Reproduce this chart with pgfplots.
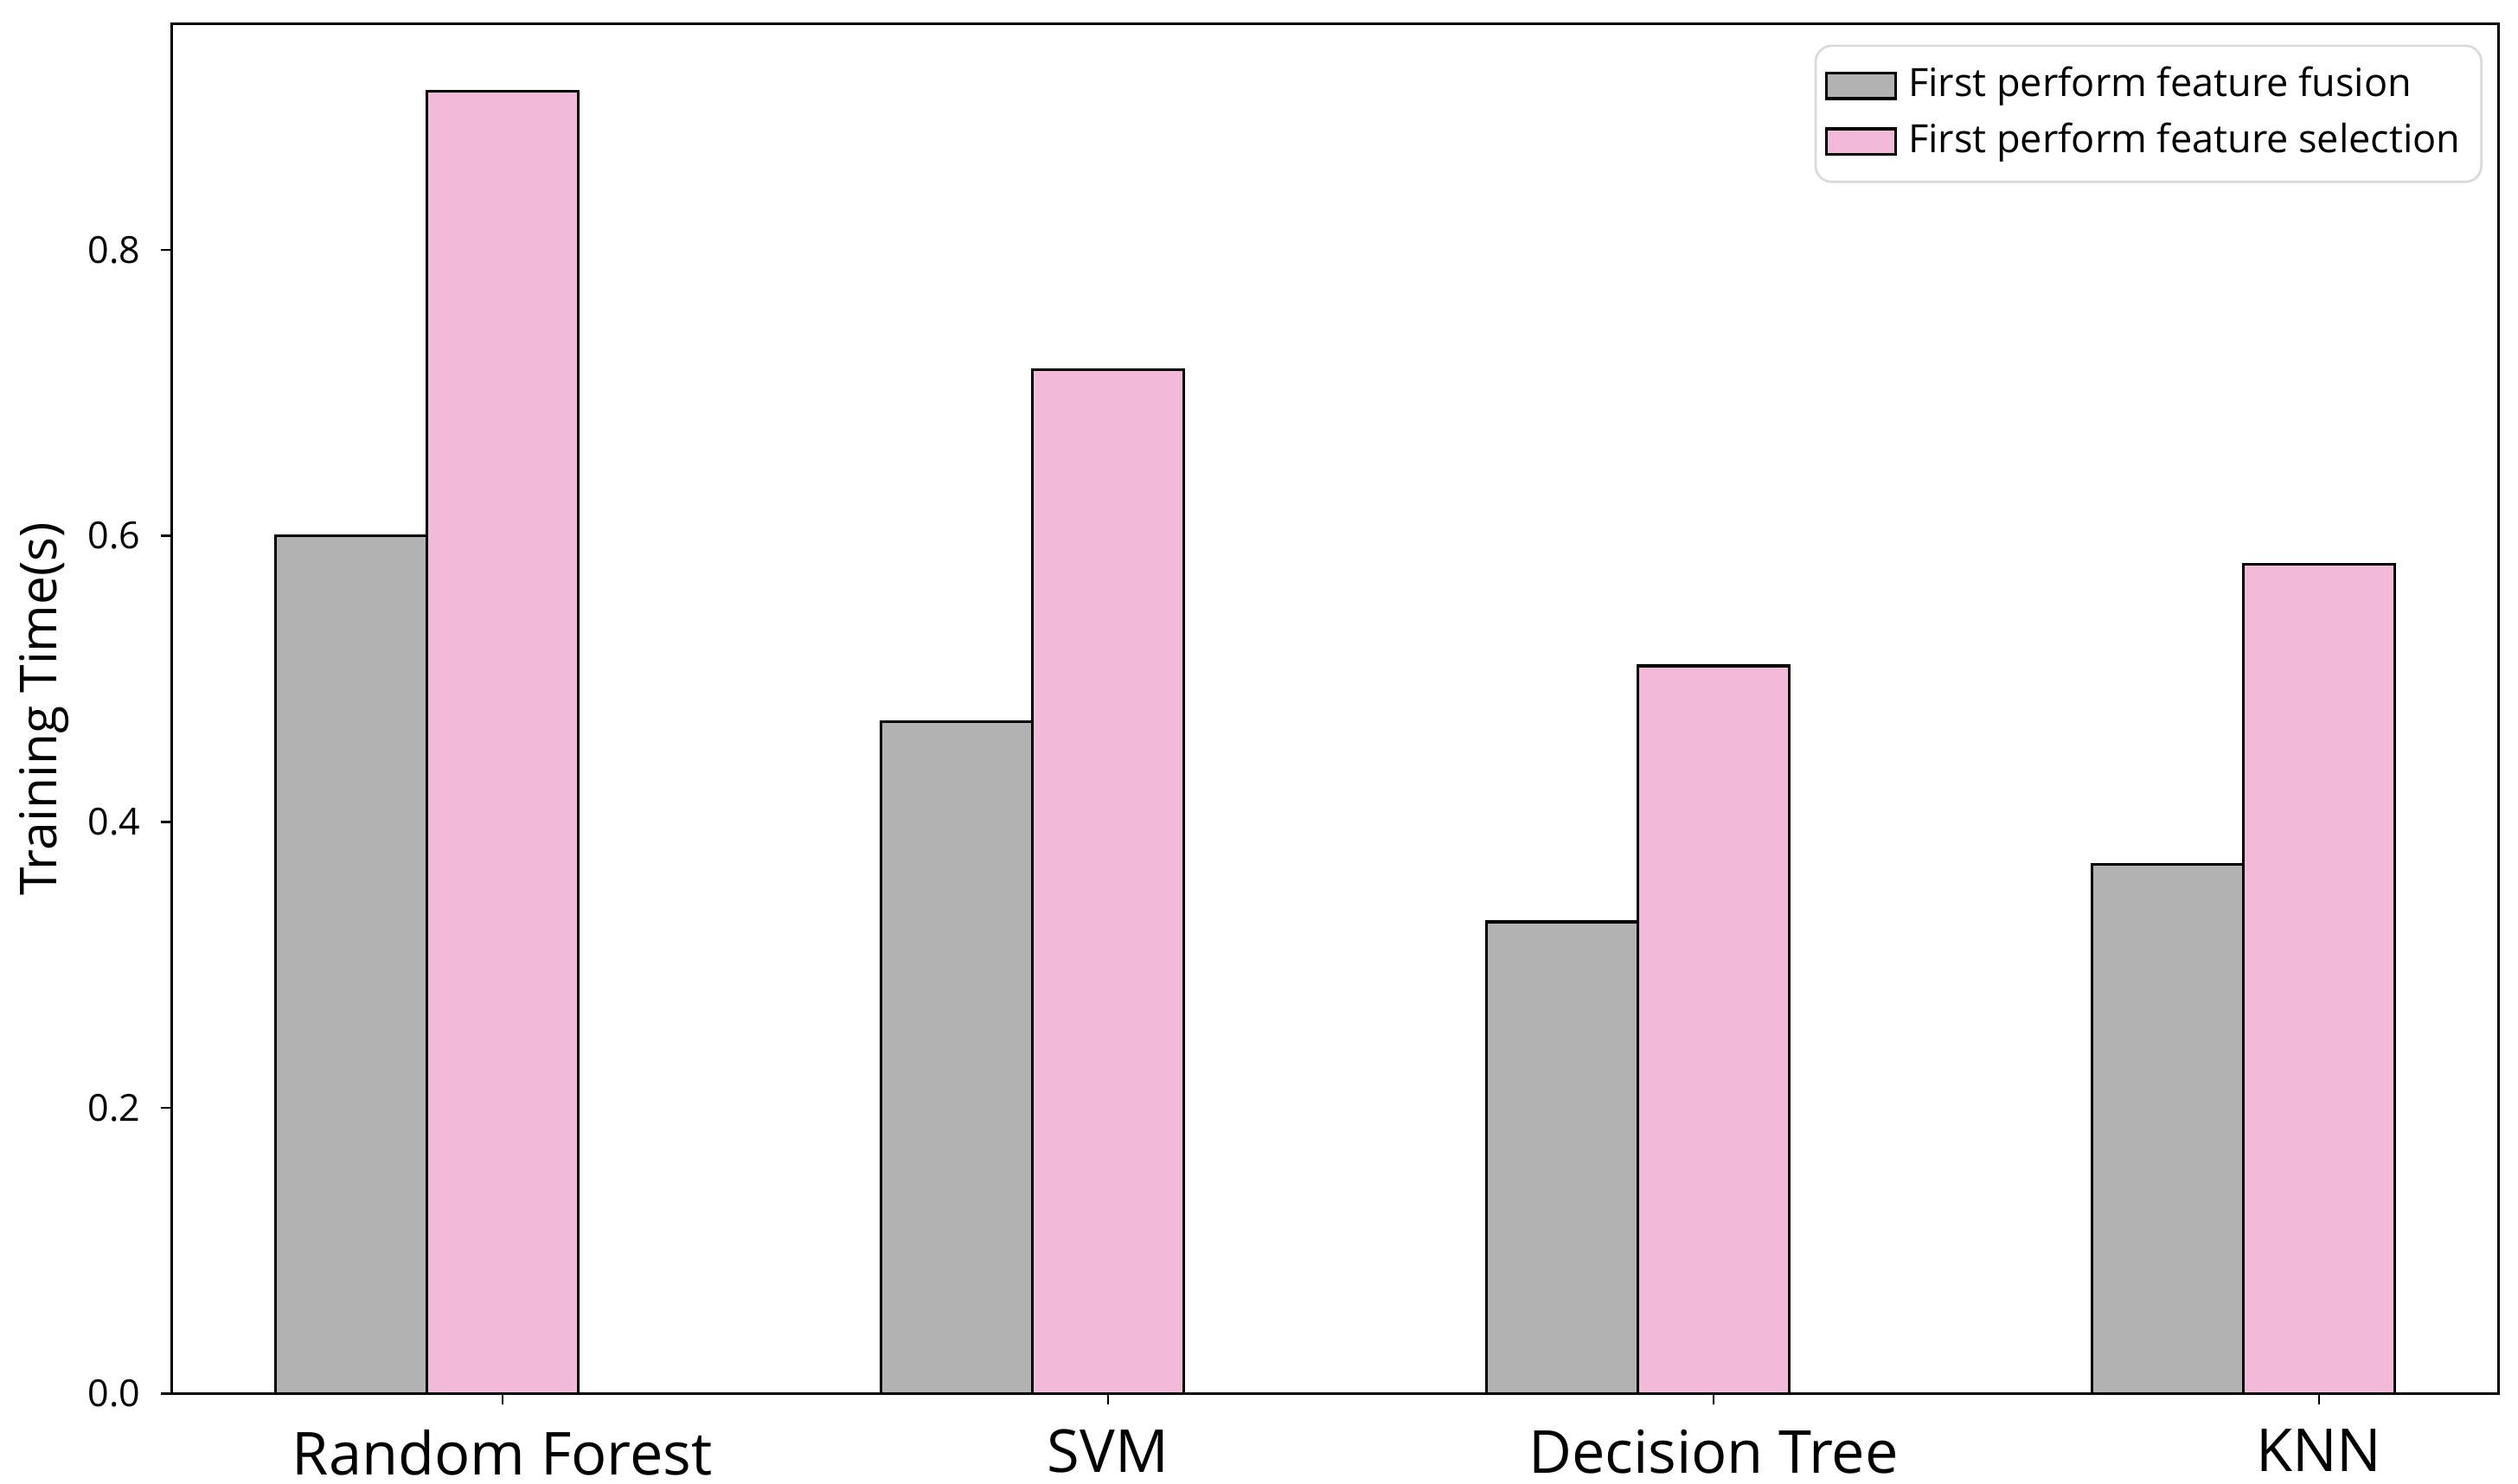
\documentclass[border=0pt]{standalone}
\usepackage{pgfplots}
\pgfplotsset{compat=1.18}
\usepackage{fontspec}
\setmainfont{Open Sans}
\definecolor{gbar}{HTML}{B2B2B2}
\definecolor{pbar}{HTML}{F3B9D9}
\begin{document}
\begin{tikzpicture}
\useasboundingbox (-10.7mm,-5.6mm) rectangle (146.1mm,86.8mm);
\begin{axis}[
  at={(0,0)}, anchor=south west,
  scale only axis, width=144.9mm, height=85.3mm,
  xmin=-0.546, xmax=3.297, ymin=0, ymax=0.958,
  axis line style={line width=0.5pt},
  xtick={0,1,2,3},
  xticklabels={Random Forest,SVM,Decision Tree,KNN},
  x tick label style={font=\fontsize{10.5pt}{12pt}\selectfont, yshift=-0.3mm},
  ytick={0,0.2,0.4,0.6,0.8},
  yticklabel style={/pgf/number format/fixed,/pgf/number format/fixed zerofill,/pgf/number format/precision=1, font=\fontsize{6.6pt}{8pt}\selectfont},
  /pgf/number format/assume math mode=true,
  tick align=outside, tick pos=left,
  major tick length=0.7mm,
  tick style={black, line width=0.4pt},
  ylabel={Training Time(s)},
  ylabel style={font=\fontsize{9pt}{11pt}\selectfont, yshift=-1.2mm},
  legend style={at={(0.993,0.985)}, anchor=north east, draw=black!15, rounded corners=1mm,
    font=\fontsize{6.9pt}{8pt}\selectfont, row sep=-0.3mm, inner xsep=0.6mm, inner ysep=0.6mm},
  legend cell align=left,
  legend image code/.code={\draw[#1, line width=0.5pt, sharp corners] (0mm,-0.8mm) rectangle (4.3mm,0.8mm);},
]
\addplot[ybar, bar width=0.25, bar shift=0pt, fill=gbar, draw=black, line width=0.5pt]
  coordinates {(-0.25,0.600) (0.75,0.470) (1.75,0.330) (2.75,0.370)};
\addlegendentry{First perform feature fusion}
\addplot[ybar, bar width=0.25, bar shift=0pt, fill=pbar, draw=black, line width=0.5pt]
  coordinates {(0,0.911) (1,0.716) (2,0.509) (3,0.580)};
\addlegendentry{First perform feature selection}
\end{axis}
\end{tikzpicture}
\end{document}
